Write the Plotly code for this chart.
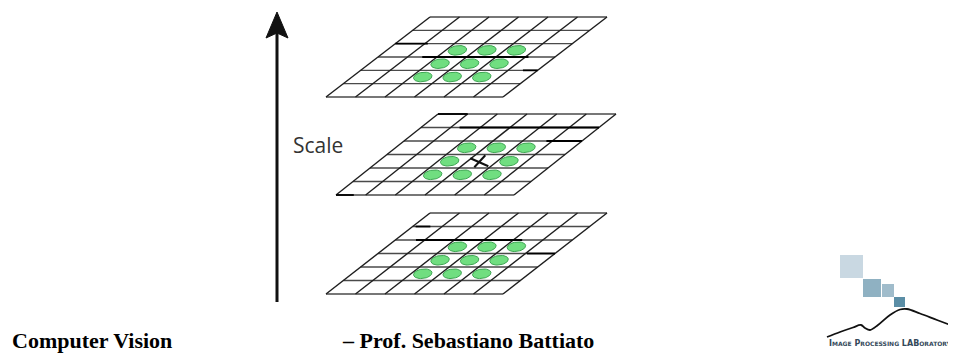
import math
import plotly.graph_objects as go

# ---------------- data ----------------
layers = ["top", "middle", "bottom"]
n_rows = 6
n_cols = 6
neighbor_rows = [2, 3, 4]
neighbor_cols = [2, 3, 4]
sample_layer = "middle"
sample_cell = (3, 3)  # (col, row) of the sample point marked with X
# darker highlighted grid segments: (layer, row line, col start, col end)
dark_segments = [
    ("top", 2, 0.0, 1.1), ("top", 3, 1.5, 5.1), ("top", 4, 5.5, 6.0),
    ("middle", 0, 0.0, 1.0), ("middle", 1, 1.3, 6.0), ("middle", 2, 4.8, 6.0),
    ("middle", 6, 0.0, 0.6),
    ("bottom", 1, 0.1, 0.6), ("bottom", 2, 0.7, 4.3), ("bottom", 3, 5.05, 6.0),
]
axis_label = "Scale"
footer_left = "Computer Vision"
footer_right = "– Prof. Sebastiano Battiato"
logo_text = ("I<span style='font-size:6px'>MAGE</span> P<span style='font-size:6px'>ROCESSING</span> "
             "LAB<span style='font-size:6px'>ORATORY</span>")

# ---------------- geometry (pixel space) ----------------
geom = {
    "top":    dict(T=17, B=97, BL=326, W=177, S=104),
    "middle": dict(T=114, B=195, BL=336, W=178, S=102),
    "bottom": dict(T=213, B=294, BL=326, W=177, S=104),
}


def P(layer, c, r):
    g = geom[layer]
    y = g["T"] + r * (g["B"] - g["T"]) / n_rows
    x = g["BL"] + c * g["W"] / n_cols + (n_rows - r) / n_rows * g["S"]
    return x, y


fig = go.Figure()

# grids
for L in layers:
    xs, ys = [], []
    for r in range(n_rows + 1):
        x0, y0 = P(L, 0, r)
        x1, y1 = P(L, n_cols, r)
        xs += [x0, x1, None]
        ys += [y0, y1, None]
    fig.add_trace(go.Scatter(x=xs, y=ys, mode="lines",
                             line=dict(color="#4a4a4a", width=1.4),
                             hoverinfo="skip"))
    xs, ys = [], []
    for c in range(n_cols + 1):
        x0, y0 = P(L, c, 0)
        x1, y1 = P(L, c, n_rows)
        xs += [x0, x1, None]
        ys += [y0, y1, None]
    fig.add_trace(go.Scatter(x=xs, y=ys, mode="lines",
                             line=dict(color="#1e1e1e", width=1.4),
                             hoverinfo="skip"))

# dark segments
xs, ys = [], []
for L, r, c0, c1 in dark_segments:
    x0, y0 = P(L, c0, r)
    x1, y1 = P(L, c1, r)
    xs += [x0, x1, None]
    ys += [y0, y1, None]
fig.add_trace(go.Scatter(x=xs, y=ys, mode="lines",
                         line=dict(color="#000000", width=1.8),
                         hoverinfo="skip"))

# neighbor ellipses
ex, ey = [], []
rx, ry, rot = 9.3, 4.7, math.radians(-8)
for L in layers:
    for r in neighbor_rows:
        for c in neighbor_cols:
            if L == sample_layer and (c, r) == sample_cell:
                continue
            cx, cy = P(L, c + 0.5, r + 0.5)
            cx -= 3
            for k in range(41):
                t = 2 * math.pi * k / 40
                px = rx * math.cos(t)
                py = ry * math.sin(t)
                ex.append(cx + px * math.cos(rot) - py * math.sin(rot))
                ey.append(cy + px * math.sin(rot) + py * math.cos(rot))
            ex.append(None)
            ey.append(None)
fig.add_trace(go.Scatter(x=ex, y=ey, mode="lines", fill="toself",
                         fillcolor="#70de80",
                         line=dict(color="#3da552", width=1),
                         hoverinfo="skip"))

# X mark at sample point
cx, cy = P(sample_layer, sample_cell[0] + 0.5, sample_cell[1] + 0.5)
cx -= 3
fig.add_trace(go.Scatter(
    x=[cx - 9, cx + 9, None, cx - 5, cx + 6],
    y=[cy - 3, cy + 5, None, cy + 6, cy - 6],
    mode="lines", line=dict(color="#111111", width=2), hoverinfo="skip"))

# scale arrow
ax = 277
fig.add_trace(go.Scatter(x=[ax, ax], y=[302, 32], mode="lines",
                         line=dict(color="#111111", width=3), hoverinfo="skip"))
fig.add_trace(go.Scatter(x=[ax, ax + 11, ax, ax - 11, ax],
                         y=[12, 38, 33, 38, 12], mode="lines", fill="toself",
                         fillcolor="#111111", line=dict(color="#111111", width=1),
                         hoverinfo="skip"))

# logo
logo_squares = [
    (840, 255, 863, 278, "#c9d8e2"),
    (863, 279, 881, 297, "#8fb1c2"),
    (882, 284, 894, 297, "#a0bccb"),
    (894, 297, 905, 307, "#5b8ea6"),
]
shapes = []
for x0, y0, x1, y1, col in logo_squares:
    shapes.append(dict(type="rect", xref="x", yref="y", x0=x0, y0=y0, x1=x1, y1=y1,
                       fillcolor=col, line=dict(width=0), layer="above"))
curve_x = [827, 840, 853, 861, 865, 870, 878, 890, 900, 907, 920, 937, 953]
curve_y = [337, 332, 327.5, 325, 328, 330, 325, 315, 309.5, 309, 313.5, 320, 326]
fig.add_trace(go.Scatter(x=curve_x, y=curve_y, mode="lines", line_shape="spline",
                         line=dict(color="#111111", width=1.8), hoverinfo="skip"))

annotations = [
    dict(x=291, y=145, xref="x", yref="y", text=axis_label, showarrow=False,
         xanchor="left", yanchor="middle",
         font=dict(family="Open Sans", size=21, color="#333333")),
    dict(x=10, y=340, xref="x", yref="y", text="<b>" + footer_left + "</b>",
         showarrow=False, xanchor="left", yanchor="middle",
         font=dict(family="Liberation Serif", size=22, color="#000000")),
    dict(x=340, y=340, xref="x", yref="y", text="<b>" + footer_right + "</b>",
         showarrow=False, xanchor="left", yanchor="middle",
         font=dict(family="Liberation Serif", size=22, color="#000000")),
    dict(x=827, y=343, xref="x", yref="y", text="<b>" + logo_text + "</b>",
         showarrow=False, xanchor="left", yanchor="middle",
         font=dict(family="DejaVu Sans", size=8, color="#34495a")),
]

# the page body has an 8px margin: the figure is made 8px smaller and the
# axis ranges start at 8 so that data units equal window pixels
OFF = 8
fig.update_layout(
    width=956 - OFF, height=358 - OFF,
    margin=dict(l=0, r=0, t=0, b=0),
    paper_bgcolor="white", plot_bgcolor="white",
    showlegend=False,
    xaxis=dict(range=[OFF, 956], visible=False, fixedrange=True),
    yaxis=dict(range=[358, OFF], visible=False, fixedrange=True),
    shapes=shapes,
    annotations=annotations,
)

fig.write_html("out.html")
